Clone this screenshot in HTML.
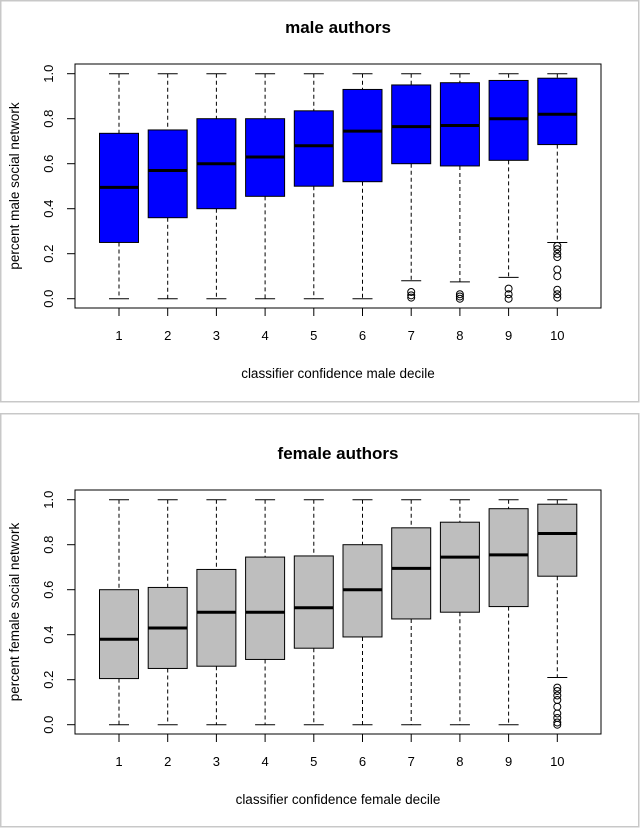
<!DOCTYPE html>
<html><head><meta charset="utf-8"><style>
body{margin:0;background:#fff;}
svg{display:block;font-family:"Liberation Sans",Arial,sans-serif;}
</style></head><body>
<svg id="chart" width="640" height="828" viewBox="0 0 640 828"></svg>
<script>
const categories=["1","2","3","4","5","6","7","8","9","10"];
const yTicks=[0,0.2,0.4,0.6,0.8,1.0];
const yTickLabels=["0.0","0.2","0.4","0.6","0.8","1.0"];
const maleLow=[0,0,0,0,0,0,0.08,0.075,0.095,0.25];
const maleQ1=[0.25,0.36,0.40,0.455,0.50,0.52,0.60,0.59,0.615,0.685];
const maleMed=[0.495,0.57,0.60,0.63,0.68,0.745,0.765,0.77,0.80,0.82];
const maleQ3=[0.735,0.75,0.80,0.80,0.835,0.93,0.95,0.96,0.97,0.98];
const maleHigh=[1,1,1,1,1,1,1,1,1,1];
const maleOut=[[],[],[],[],[],[],[0.03,0.015,0.005],[0.02,0.01,0.0],[0.045,0.02,0.0],[0.235,0.22,0.2,0.185,0.13,0.1,0.04,0.02,0.005]];
const femLow=[0,0,0,0,0,0,0,0,0,0.21];
const femQ1=[0.205,0.25,0.26,0.29,0.34,0.39,0.47,0.50,0.525,0.66];
const femMed=[0.38,0.43,0.50,0.50,0.52,0.60,0.695,0.745,0.755,0.85];
const femQ3=[0.60,0.61,0.69,0.745,0.75,0.80,0.875,0.90,0.96,0.98];
const femHigh=[1,1,1,1,1,1,1,1,1,1];
const femOut=[[],[],[],[],[],[],[],[],[],[0.165,0.15,0.13,0.11,0.08,0.05,0.03,0.01,0.0]];

const NS="http://www.w3.org/2000/svg";
const svg=document.getElementById('chart');
function mk(tag,attrs,parent,txt){const e=document.createElementNS(NS,tag);for(const k in attrs)e.setAttribute(k,attrs[k]);if(txt!==undefined)e.textContent=txt;(parent||svg).appendChild(e);return e;}

function panel(off,bTop,bH,title,xTitle,yTitle,fill,low,q1,med,q3,high,outs,prefix){
  const g=mk('g',{});
  
  
  const pb=mk('rect',{x:0.75,y:bTop+0.75,width:638,height:bH,fill:'none',stroke:'#c8c8c8','stroke-width':1.5},g);
  
  const L=75,R=601,T=off+64,B=off+308;
  const y=v=>off+298.7-v*225;
  const x=i=>119+i*48.7;
  const t=mk('text',{x:338,y:off+33,'text-anchor':'middle','font-size':17,'font-weight':'bold'},g,title);
  
  const ax=mk('g',{},g);
  yTicks.forEach((v,i)=>{
    mk('line',{x1:67,x2:L,y1:y(v),y2:y(v),stroke:'#000'},ax);
    mk('text',{transform:`translate(${53},${y(v)}) rotate(-90)`,'text-anchor':'middle','font-size':13},ax,yTickLabels[i]);
  });
  const yt=mk('text',{transform:`translate(19,${(T+B)/2}) rotate(-90)`,'text-anchor':'middle','font-size':13.5},g,yTitle);
  
  const xa=mk('g',{},g);
  categories.forEach((c,i)=>{
    mk('line',{x1:x(i),x2:x(i),y1:B,y2:B+8,stroke:'#000'},xa);
    mk('text',{x:x(i),y:off+340,'text-anchor':'middle','font-size':13},xa,c);
  });
  const xt=mk('text',{x:338,y:off+378,'text-anchor':'middle','font-size':13.5},g,xTitle);
  
  categories.forEach((c,i)=>{
    const b=mk('g',{},g);
    
    
    const cx=x(i),hw=19.5;
    mk('line',{x1:cx,x2:cx,y1:y(high[i]),y2:y(q3[i]),stroke:'#000','stroke-dasharray':'4,3'},b);
    mk('line',{x1:cx,x2:cx,y1:y(q1[i]),y2:y(low[i]),stroke:'#000','stroke-dasharray':'4,3'},b);
    mk('line',{x1:cx-10,x2:cx+10,y1:y(high[i]),y2:y(high[i]),stroke:'#000'},b);
    mk('line',{x1:cx-10,x2:cx+10,y1:y(low[i]),y2:y(low[i]),stroke:'#000'},b);
    mk('rect',{x:cx-hw,y:y(q3[i]),width:hw*2,height:y(q1[i])-y(q3[i]),fill:fill,stroke:'#000','stroke-width':1},b);
    mk('line',{x1:cx-hw,x2:cx+hw,y1:y(med[i]),y2:y(med[i]),stroke:'#000','stroke-width':3},b);
    outs[i].forEach(v=>{
      const o=mk('circle',{cx:cx,cy:y(v),r:3.5,fill:'none',stroke:'#000'},b);
      
      
    });
  });
  const fr=mk('rect',{x:L,y:T,width:R-L,height:B-T,fill:'none',stroke:'#000'},g);
  
}
panel(0,0,401,'male authors','classifier confidence male decile','percent male social network','#0000ff',maleLow,maleQ1,maleMed,maleQ3,maleHigh,maleOut,'male');
panel(426,413,413,'female authors','classifier confidence female decile','percent female social network','#bebebe',femLow,femQ1,femMed,femQ3,femHigh,femOut,'female');
</script>
</body></html>
